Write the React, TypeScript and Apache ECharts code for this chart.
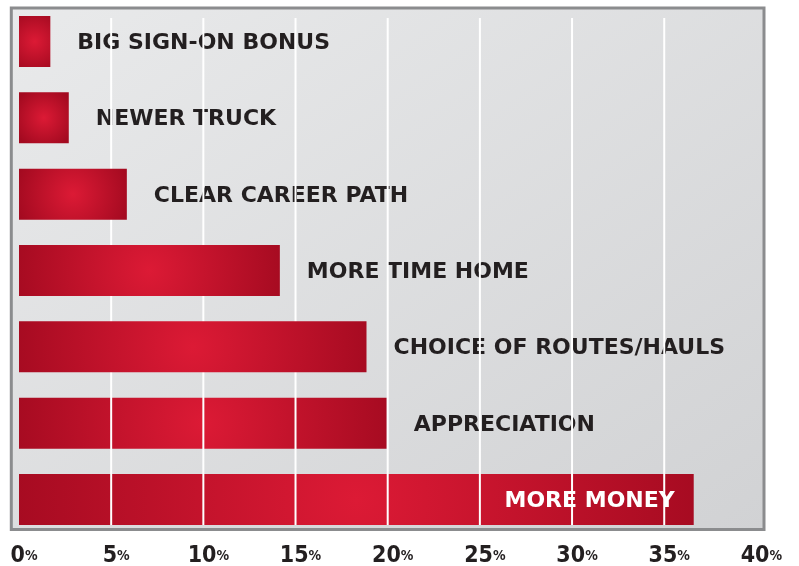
import React, { useEffect, useRef } from "react";
import * as echarts from "echarts";

const categories: string[] = [
  "BIG SIGN-ON BONUS",
  "NEWER TRUCK",
  "CLEAR CAREER PATH",
  "MORE TIME HOME",
  "CHOICE OF ROUTES/HAULS",
  "APPRECIATION",
  "MORE MONEY",
];
const values: number[] = [1.7, 2.7, 5.85, 14.15, 18.85, 19.95, 36.6];
const gridTicks: number[] = [5, 10, 15, 20, 25, 30, 35];
const axisMin = 0;
const axisMax = 40;
const axisStep = 5;

const BAR_W = 51;
const TEXT_COLOR = "#231f20";
const RED_CENTER = "#dc1a35";
const RED_EDGE = "#a30a20";

export default function App() {
  const ref = useRef<HTMLDivElement>(null);

  useEffect(() => {
    if (!ref.current) return;
    const chart = echarts.init(ref.current, undefined, { renderer: "svg" });
    const maxVal = Math.max(...values);
    // the two lowest bars sit below the white gridlines
    const underLines = (i: number) => i >= categories.length - 2;

    const baseGradient = {
      type: "radial",
      x: 0.5,
      y: 0.5,
      r: 0.6,
      colorStops: [
        { offset: 0, color: RED_CENTER },
        { offset: 1, color: RED_EDGE },
      ],
    };

    const makeOption = (colorFor: (i: number) => any): any => ({
      animation: false,
      graphic: [
        {
          type: "rect",
          z: -10,
          silent: true,
          shape: { x: 11.3, y: 8, width: 752.7, height: 521.5 },
          style: {
            fill: {
              type: "linear",
              x: 0,
              y: 0,
              x2: 1,
              y2: 1,
              colorStops: [
                { offset: 0, color: "#e9eaeb" },
                { offset: 1, color: "#d1d2d4" },
              ],
            },
            stroke: "#8b8c8e",
            lineWidth: 3,
          },
        },
      ],
      grid: {
        left: 19,
        right: 42.6,
        top: 3.33,
        bottom: 28.37,
        containLabel: false,
        outerBoundsMode: "none",
      },
      xAxis: {
        type: "value",
        min: axisMin,
        max: axisMax,
        interval: axisStep,
        axisLine: { show: false },
        axisTick: { show: false },
        splitLine: { show: false },
        axisLabel: {
          margin: 16,
          verticalAlign: "middle",
          padding: [0, 0, 0, 10],
          formatter: (v: number) => `{n|${v}}{p|%}`,
          rich: {
            n: {
              fontFamily: "'DejaVu Sans Condensed', 'DejaVu Sans', sans-serif",
              fontWeight: "bold",
              fontSize: 23,
              lineHeight: 18,
              color: TEXT_COLOR,
            },
            p: {
              fontFamily: "'DejaVu Sans Condensed', 'DejaVu Sans', sans-serif",
              fontWeight: "bold",
              fontSize: 14,
              lineHeight: 18,
              color: TEXT_COLOR,
              verticalAlign: "bottom",
              padding: [0, 0, 1, 0],
            },
          },
        },
      },
      yAxis: {
        type: "category",
        data: categories,
        inverse: true,
        show: false,
      },
      series: [
        {
          name: "back",
          type: "bar",
          z: 2,
          silent: true,
          barWidth: BAR_W,
          barGap: "-100%",
          data: values.map((v, i) =>
            underLines(i) ? { value: v, itemStyle: { color: colorFor(i) } } : "-"
          ),
        },
        {
          name: "labels",
          type: "bar",
          z: 3,
          silent: true,
          barWidth: BAR_W,
          barGap: "-100%",
          itemStyle: { color: "rgba(0,0,0,0)" },
          label: {
            show: true,
            position: "right",
            distance: 27,
            formatter: "{b}",
            fontFamily: "'DejaVu Sans', sans-serif",
            fontWeight: "bold",
            fontSize: 22,
            color: TEXT_COLOR,
          },
          data: values.map((v) =>
            v === maxVal
              ? {
                  value: v,
                  label: { position: "insideRight", distance: 19, color: "#ffffff" },
                }
              : v
          ),
        },
        {
          name: "gridlines",
          type: "custom",
          z: 4,
          silent: true,
          data: gridTicks.map((t) => [t, 0]),
          renderItem: (params: any, api: any) => {
            const x = api.value(0);
            const band = api.size([0, 1])[1];
            const pTop = api.coord([x, 0]);
            const pBot = api.coord([x, categories.length - 1]);
            return {
              type: "line",
              shape: {
                x1: pTop[0],
                y1: pTop[1] - band * 0.308,
                x2: pBot[0],
                y2: pBot[1] + BAR_W / 2,
              },
              style: { stroke: "#ffffff", lineWidth: 2 },
            };
          },
        },
        {
          name: "front",
          type: "bar",
          z: 5,
          silent: true,
          barWidth: BAR_W,
          barGap: "-100%",
          data: values.map((v, i) =>
            underLines(i) ? "-" : { value: v, itemStyle: { color: colorFor(i) } }
          ),
        },
      ],
    });

    chart.setOption(makeOption(() => baseGradient));

    // circular radial glow centred on each bar, radius from the bar's own length
    const circleGradient = (i: number) => {
      const p0 = chart.convertToPixel({ gridIndex: 0 }, [axisMin, i]) as number[];
      const p1 = chart.convertToPixel({ gridIndex: 0 }, [values[i], i]) as number[];
      if (!p0 || !p1) return baseGradient;
      const half = (p1[0] - p0[0]) / 2;
      return {
        type: "radial",
        x: p0[0] + half,
        y: p0[1],
        r: Math.max(half * 1.08, BAR_W * 0.62),
        global: true,
        colorStops: [
          { offset: 0, color: RED_CENTER },
          { offset: 1, color: RED_EDGE },
        ],
      };
    };
    chart.setOption(makeOption(circleGradient));

    return () => chart.dispose();
  }, []);

  return (
    <div
      ref={ref}
      style={{ position: "fixed", left: 0, top: 0, width: 799, height: 566 }}
    />
  );
}
